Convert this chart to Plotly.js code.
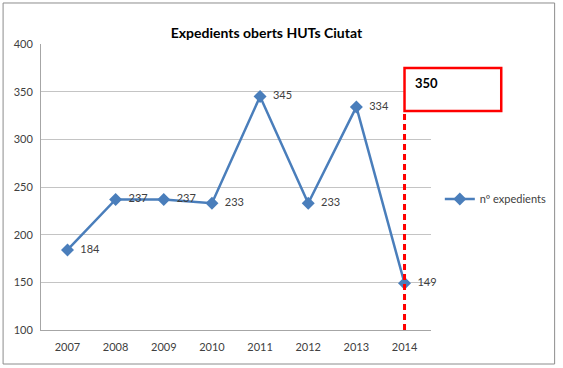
<!DOCTYPE html>
<html>
<head>
<meta charset="utf-8">
<script src="https://cdn.plot.ly/plotly-3.0.1.min.js"></script>
<style>
  html, body { margin: 0; padding: 0; background: #ffffff; }
  #chart { width: 563px; height: 368px; }
</style>
</head>
<body>
<div id="chart"></div>
<script>
const years = ['2007', '2008', '2009', '2010', '2011', '2012', '2013', '2014'];
const expedients = [184, 237, 237, 233, 345, 233, 334, 149];
const seriesName = 'nº expedients';
const chartTitle = 'Expedients oberts HUTs Ciutat';
const targetLabel = '350';
const targetYear = '2014';

const font = 'Lato, "Noto Sans", sans-serif';
const blue = '#4a7ebb';
const tIdx = years.indexOf(targetYear);
const xr = [-0.55, years.length - 0.45];
const tFrac = (tIdx - xr[0]) / (xr[1] - xr[0]);

const trace = {
  x: years,
  y: expedients,
  type: 'scatter',
  mode: 'lines+markers+text',
  name: seriesName,
  text: expedients.map(v => '\u00a0\u00a0' + v),
  textposition: 'middle right',
  textfont: { family: font, size: 11, color: '#404040' },
  line: { color: blue, width: 2.5 },
  marker: { symbol: 'diamond', size: 10, color: blue },
  cliponaxis: false,
  hoverinfo: 'x+y'
};

const layout = {
  width: 563,
  height: 368,
  margin: { l: 41, r: 131, t: 44, b: 38 },
  paper_bgcolor: '#ffffff',
  plot_bgcolor: '#ffffff',
  font: { family: font, size: 11, color: '#404040' },
  title: {
    text: '<b>' + chartTitle + '</b>',
    font: { family: font, size: 14, color: '#000000' },
    xref: 'paper', x: 0.578, xanchor: 'center',
    yref: 'container', y: 0.91, yanchor: 'middle'
  },
  xaxis: {
    type: 'category',
    categoryorder: 'array',
    categoryarray: years,
    range: xr,
    autotypenumbers: 'strict',
    showgrid: false,
    showline: true,
    linecolor: '#a6a6a6',
    linewidth: 1,
    ticks: '',
    ticklabelstandoff: 7,
    tickfont: { family: font, size: 11, color: '#404040' },
    zeroline: false,
    fixedrange: true
  },
  yaxis: {
    range: [100, 400],
    dtick: 50,
    tick0: 100,
    showgrid: true,
    gridcolor: '#c4c4c4',
    gridwidth: 1,
    showline: true,
    linecolor: '#a6a6a6',
    linewidth: 1,
    ticks: '',
    ticklabelstandoff: 5,
    tickfont: { family: font, size: 11, color: '#404040' },
    zeroline: false,
    fixedrange: true
  },
  showlegend: true,
  legend: {
    x: 1.02, xanchor: 'left',
    y: 0.458, yanchor: 'middle',
    font: { family: font, size: 11, color: '#404040' },
    bgcolor: 'rgba(0,0,0,0)',
    borderwidth: 0
  },
  shapes: [
    {
      type: 'rect', xref: 'paper', yref: 'paper',
      x0: -0.0972, x1: 1.317, y0: -0.1189, y1: 1.1434,
      line: { color: '#8c8c8c', width: 1 },
      fillcolor: 'rgba(0,0,0,0)', layer: 'below'
    },
    {
      type: 'line', xref: 'x', yref: 'paper',
      x0: tIdx, x1: tIdx, y0: 0, y1: 0.7657,
      line: { color: '#ff0000', width: 3, dash: '6px,4px' },
      layer: 'above'
    },
    {
      type: 'rect', xref: 'paper', yref: 'paper',
      x0: tFrac, x1: tFrac + 0.248, y0: 0.7657, y1: 0.916,
      line: { color: '#ff0000', width: 2.5 },
      fillcolor: '#ffffff', layer: 'above'
    }
  ],
  annotations: [
    {
      text: '<b>' + targetLabel + '</b>',
      xref: 'paper', yref: 'paper',
      x: tFrac + 0.022, y: 0.865,
      xanchor: 'left', yanchor: 'middle',
      showarrow: false,
      font: { family: font, size: 13, color: '#000000' }
    }
  ]
};

Plotly.newPlot('chart', [trace], layout, { displayModeBar: false, staticPlot: true });
</script>
</body>
</html>
